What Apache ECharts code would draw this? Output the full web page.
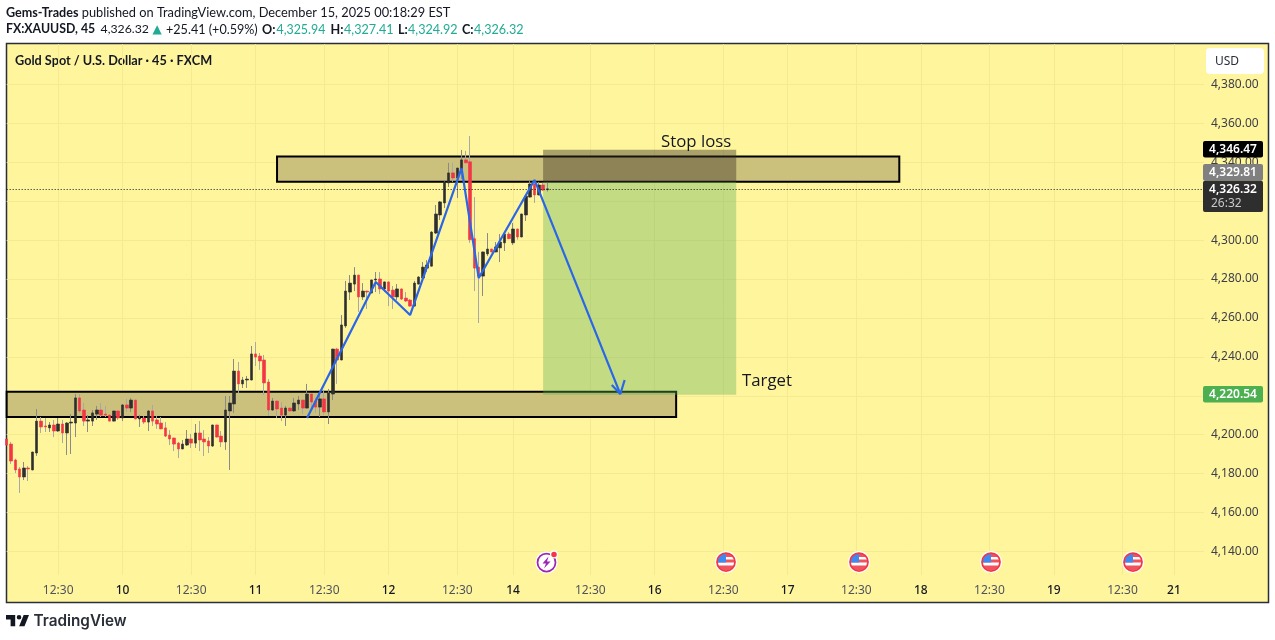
<!DOCTYPE html>
<html>
<head>
<meta charset="utf-8">
<title>XAUUSD 45</title>
<script src="https://cdn.jsdelivr.net/npm/echarts@6/dist/echarts.min.js"></script>
<style>
  html, body { margin: 0; padding: 0; background: #fff; }
  #main-chart { width: 1275px; height: 640px; }
</style>
</head>
<body>
<div id="main-chart"></div>
<script>
// candles, oldest first
var opens = [4197.8,4195.2,4187.0,4182.4,4178.3,4182.9,4181.9,4190.6,4207.0,4204.5,4203.5,4205.0,4201.9,4205.5,4200.9,4206.0,4206.0,4218.9,4212.7,4207.0,4207.0,4210.6,4212.7,4210.6,4210.1,4207.0,4212.2,4208.6,4215.3,4213.7,4217.8,4208.1,4208.6,4206.5,4212.2,4207.6,4206.0,4203.5,4199.8,4198.3,4195.7,4192.7,4194.7,4197.8,4195.7,4200.9,4197.8,4196.8,4194.2,4205.0,4199.3,4196.3,4212.2,4215.8,4232.7,4226.1,4228.1,4228.1,4241.5,4240.4,4238.4,4227.1,4212.7,4217.3,4213.7,4210.1,4213.7,4212.2,4215.8,4217.8,4213.7,4220.9,4217.3,4214.2,4218.4,4211.7,4220.9,4244.0,4238.4,4255.9,4273.3,4277.4,4282.0,4270.8,4273.8,4272.8,4279.5,4280.0,4274.9,4278.5,4274.3,4270.8,4274.9,4270.2,4269.2,4266.1,4277.4,4280.5,4285.6,4286.6,4303.6,4312.9,4319.1,4329.4,4334.5,4331.9,4336.5,4341.2,4340.2,4300.7,4286.1,4281.5,4292.9,4295.4,4293.9,4296.0,4298.6,4303.1,4298.6,4305.7,4301.6,4312.9,4322.1,4328.8,4323.2,4328.3,4325.94];
var closes = [4194.7,4186.5,4181.9,4178.3,4182.9,4182.4,4191.1,4207.0,4204.0,4204.0,4205.0,4201.9,4205.5,4200.9,4206.0,4206.5,4218.9,4212.2,4207.0,4207.6,4211.2,4212.7,4210.1,4210.1,4207.0,4212.2,4208.6,4215.3,4213.7,4217.8,4208.1,4208.6,4206.5,4212.2,4207.0,4205.5,4203.0,4199.3,4197.8,4195.2,4192.7,4195.2,4197.8,4195.7,4200.9,4197.3,4196.3,4194.2,4205.0,4198.8,4196.3,4212.7,4216.3,4232.7,4226.1,4228.1,4228.6,4241.5,4239.9,4237.9,4226.6,4212.7,4217.3,4213.2,4210.1,4213.7,4212.2,4216.3,4217.8,4213.7,4220.9,4216.8,4214.2,4218.4,4211.7,4221.4,4244.0,4238.4,4256.4,4273.8,4277.9,4282.0,4270.8,4273.8,4273.3,4279.5,4280.0,4274.9,4278.5,4273.8,4270.8,4274.9,4269.7,4268.7,4266.1,4277.9,4281.0,4286.1,4287.2,4304.1,4313.4,4319.6,4329.9,4334.5,4331.9,4337.0,4341.2,4339.7,4300.2,4285.6,4281.5,4293.9,4295.4,4293.9,4296.5,4299.0,4303.1,4300.7,4305.7,4301.6,4313.4,4322.6,4328.8,4323.2,4328.3,4325.7,4326.32];
var lows = [4193.0,4185.0,4180.3,4170.1,4176.7,4176.2,4181.7,4189.1,4200.9,4201.4,4201.4,4198.8,4201.4,4195.7,4189.6,4190.1,4198.8,4211.2,4204.5,4201.4,4204.5,4207.6,4209.1,4209.1,4206.8,4206.8,4207.6,4207.0,4211.7,4211.7,4207.9,4204.0,4205.5,4201.9,4204.5,4203.0,4202.8,4198.8,4194.7,4191.6,4188.0,4192.5,4194.2,4193.2,4193.2,4191.6,4189.1,4190.6,4193.7,4198.6,4193.7,4192.2,4181.9,4211.2,4221.4,4224.0,4224.0,4227.9,4235.3,4233.3,4220.4,4209.6,4212.2,4208.6,4207.0,4204.5,4212.0,4211.7,4212.7,4210.6,4213.5,4212.7,4211.2,4209.1,4210.1,4205.5,4217.8,4226.1,4238.2,4254.9,4269.2,4273.8,4263.1,4269.2,4264.6,4272.6,4273.3,4272.3,4273.3,4266.1,4264.6,4269.2,4269.2,4268.2,4265.9,4265.9,4277.2,4280.3,4283.6,4286.4,4303.1,4310.3,4316.5,4327.3,4329.9,4321.6,4331.4,4339.5,4298.6,4273.8,4257.4,4271.3,4291.8,4293.7,4293.7,4288.7,4294.4,4300.5,4297.5,4300.2,4301.4,4309.8,4321.9,4319.1,4323.0,4325.2,4324.92];
var highs = [4199.0,4196.3,4187.7,4183.4,4186.0,4183.9,4191.3,4213.2,4209.1,4208.6,4206.5,4207.6,4208.6,4207.6,4206.5,4210.6,4220.9,4220.9,4216.3,4210.1,4212.7,4214.8,4216.3,4214.8,4210.3,4212.4,4212.4,4215.8,4218.4,4218.9,4218.0,4210.1,4209.6,4212.7,4215.3,4209.6,4209.1,4206.5,4202.4,4198.5,4196.3,4197.3,4202.4,4200.4,4205.5,4207.0,4202.4,4198.8,4205.2,4205.2,4201.9,4219.9,4219.9,4238.9,4237.4,4229.7,4230.2,4245.6,4247.6,4242.0,4241.0,4228.6,4218.9,4217.5,4216.8,4214.8,4213.9,4218.9,4219.9,4218.0,4226.1,4221.1,4218.9,4222.0,4223.0,4223.5,4244.2,4244.6,4261.5,4279.0,4282.0,4286.1,4282.2,4277.9,4274.0,4279.7,4283.6,4283.6,4278.7,4278.7,4276.4,4277.4,4275.1,4273.3,4269.7,4279.0,4281.5,4288.7,4289.7,4304.6,4318.0,4320.1,4330.9,4339.7,4339.7,4337.2,4346.3,4345.8,4353.5,4322.1,4293.9,4294.1,4303.6,4295.6,4299.0,4303.1,4303.3,4304.1,4308.8,4305.9,4313.6,4322.8,4330.9,4330.9,4329.9,4329.4,4329.4];

var slotCount = 280;
var priceTicks = [4140,4160,4180,4200,4220,4240,4260,4280,4300,4320,4340,4360,4380];
var timeTickIdx = [12,27,43,58,74,89,105,118,136,151,167,182,198,213,229,244,260,272];
var timeTickText = ['12:30','10','12:30','11','12:30','12','12:30','14','12:30','16','12:30','17','12:30','18','12:30','19','12:30','21'];

// drawn pattern: bar index, price
var patternIdx = [70,86,94,106,110,123,143];
var patternPrice = [4208.6,4278.5,4261.5,4337.0,4280.5,4330.9,4220.9];
var arrowIdx = [141,143,144];
var arrowPrice = [4225.6,4220.9,4228.1];

// zones: start bar, end bar, low price, high price
var upperZone = [63,208,4330.0,4343.0];
var lowerZone = [0,156,4209.1,4222.1];
var stopBox = [125,170,4329.81,4346.47];
var targetBox = [125,170,4220.54,4329.81];
var lastPrice = 4326.32;

var TXT = '#131722';
var TEAL = '#22ab94';
var FONT = 'Lato, sans-serif';
var AXIS_FONT = 'Noto Sans';

var categories = [];
for (var i = 0; i < slotCount; i++) categories.push(i);

function sparse(idx, vals) {
    var out = new Array(slotCount).fill(null);
    idx.forEach(function (k, n) { out[k] = vals[n]; });
    return out;
}

function areaFrom(box, style) {
    return [{ xAxis: box[0], yAxis: box[3], itemStyle: style }, { xAxis: box[1], yAxis: box[2] }];
}

function isTimeTick(index) {
    return timeTickIdx.indexOf(index) >= 0;
}

function svgUri(body, w, h) {
    var svg = '<svg xmlns="http://www.w3.org/2000/svg" width="' + w + '" height="' + h + '" viewBox="0 0 ' + w + ' ' + h + '">' + body + '</svg>';
    return 'data:image/svg+xml;charset=utf-8,' + encodeURIComponent(svg);
}

function flagImage() {
    return svgUri('<circle cx="22" cy="22" r="22" fill="#fff"/><clipPath id="c"><circle cx="22" cy="22" r="17"/></clipPath>' +
        '<g clip-path="url(#c)"><rect width="44" height="44" fill="#fff"/>' +
        '<rect y="5" width="44" height="7" fill="#f0525f"/><rect y="17" width="44" height="6" fill="#f0525f"/>' +
        '<rect y="29" width="44" height="10" fill="#f0525f"/><rect x="5" y="5" width="17" height="18" fill="#3d8bf0"/></g>' +
        '<circle cx="22" cy="22" r="18" fill="none" stroke="#f23645" stroke-width="3.5"/>', 44, 44);
}

function boltImage() {
    return svgUri('<circle cx="23" cy="25" r="22" fill="#fff"/><circle cx="23" cy="25" r="18" fill="none" stroke="#9c27b0" stroke-width="3.5"/>' +
        '<path d="M27 13 L15 27 H22 L18 37 L31 23 H24 Z" fill="#9c27b0"/>' +
        '<circle cx="38" cy="9" r="8" fill="#fff"/><circle cx="38" cy="9" r="5.5" fill="#f23645"/>', 48, 48);
}

function logoImage() {
    return svgUri('<path d="M14 6H2v6h6v9h6V6Zm12 15h-7l6-15h7l-6 15Zm-7-9a3 3 0 1 0 0-6 3 3 0 0 0 0 6Z" fill="#131722" transform="translate(-2,-6)"/>', 30, 15);
}

function label(x, y, text, font, fill) {
    return { type: 'text', x: x, y: y, style: { text: text, font: font, fill: fill || TXT, verticalAlign: 'middle' } };
}

function tag(y, h, fill, text, sub) {
    var out = [{
        type: 'rect', z: 20, shape: { x: 1203, y: y, width: 60, height: h, r: 2 }, style: { fill: fill }
    }, {
        type: 'text', z: 21, x: 1233, y: y + 8.5,
        style: { text: text, fill: '#fff', font: '600 12px ' + AXIS_FONT, align: 'center', verticalAlign: 'middle' }
    }];
    if (sub) out.push({
        type: 'text', z: 21, x: 1211, y: y + 23,
        style: { text: sub, fill: '#c8c8c8', font: '12px ' + AXIS_FONT, align: 'left', verticalAlign: 'middle' }
    });
    return out;
}

function chromeItems() {
    var reg = '12.8px ' + FONT;
    var bold = '700 12.6px ' + FONT;
    var items = [{
        type: 'rect', z: -10, shape: { x: 6.5, y: 43.5, width: 1262, height: 559 },
        style: { fill: '#fff59d', stroke: '#2a2e39', lineWidth: 1.5 }
    }, {
        type: 'text', x: 6, y: 12.5,
        style: {
            text: '{b|Gems-Trades} published on TradingView.com, December 15, 2025 00:18:29 EST',
            font: reg, fill: TXT, verticalAlign: 'middle',
            rich: { b: { font: bold, fill: TXT } }
        }
    },
    label(6, 29.5, 'FX:XAUUSD, 45', '700 12.3px ' + FONT),
    label(100.5, 29.5, '4,326.32', '12.3px ' + FONT),
    label(152.5, 29.5, '▲', '12px "DejaVu Sans"', TEAL),
    label(166, 29.5, '+25.41 (+0.59%)', '12.6px ' + FONT),
    label(262, 29.5, 'O:', bold), label(276.5, 29.5, '4,325.94', '12.4px ' + FONT, TEAL),
    label(330.5, 29.5, 'H:', bold), label(344, 29.5, '4,327.41', '12.6px ' + FONT, TEAL),
    label(398, 29.5, 'L:', bold), label(408, 29.5, '4,324.92', '12.6px ' + FONT, TEAL),
    label(462, 29.5, 'C:', bold), label(474, 29.5, '4,326.32', '12.6px ' + FONT, TEAL),
    label(15, 60.5, 'Gold Spot / U.S. Dollar · 45 · FXCM', '700 12.7px ' + FONT),
    {
        type: 'text', z: 15, x: 661, y: 142.5,
        style: { text: 'Stop loss', font: '16.8px "Open Sans", sans-serif', fill: TXT, verticalAlign: 'middle' }
    }, {
        type: 'text', z: 15, x: 742, y: 381,
        style: { text: 'Target', font: '16.8px "Open Sans", sans-serif', fill: TXT, verticalAlign: 'middle' }
    }, {
        type: 'rect', z: 20, shape: { x: 1206, y: 48, width: 58, height: 26, r: 4 }, style: { fill: '#fff' }
    }, {
        type: 'text', z: 21, x: 1215, y: 61.5,
        style: { text: 'USD', font: '12px ' + AXIS_FONT, fill: '#2a2e39', verticalAlign: 'middle' }
    }, {
        type: 'image', z: 5, style: { image: logoImage(), x: 6, y: 615, width: 23, height: 11.5 }
    },
    label(33.5, 621.5, 'TradingView', '600 15.3px Inter, sans-serif', '#2a2e39'),
    {
        type: 'image', z: 8, style: { image: boltImage(), x: 535, y: 550, width: 24, height: 24 }
    }];
    [726, 859, 991, 1133].forEach(function (cx) {
        items.push({ type: 'image', z: 8, style: { image: flagImage(), x: cx - 11, y: 551, width: 22, height: 22 } });
    });
    return items
        .concat(tag(141, 16.5, '#000000', '4,346.47'))
        .concat(tag(164, 16.7, '#808080', '4,329.81'))
        .concat(tag(180.7, 31.3, '#2e2e2e', '4,326.32', '26:32'))
        .concat(tag(386, 16.5, '#4caf50', '4,220.54'));
}

var mainChart = echarts.init(document.getElementById('main-chart'), null, { renderer: 'canvas' });

var mainOpt = {
    animation: false,
    graphic: chromeItems(),
    grid: { left: 6.67, right: 71, top: 44, bottom: 65 },
    xAxis: {
        type: 'category',
        data: categories,
        boundaryGap: false,
        axisLine: { show: false },
        axisTick: { show: false },
        splitLine: { show: true, interval: isTimeTick, lineStyle: { color: '#f5ea92', width: 1 } },
        axisLabel: {
            interval: isTimeTick,
            margin: 9.5,
            hideOverlap: false,
            formatter: function (v) {
                var n = timeTickIdx.indexOf(Number(v));
                if (n < 0) return '';
                var t = timeTickText[n];
                return t.length > 2 ? '{t|' + t + '}' : '{d|' + t + '}';
            },
            rich: {
                t: { fontFamily: AXIS_FONT, fontSize: 12, color: '#50535e' },
                d: { fontFamily: AXIS_FONT, fontSize: 12, color: '#131722', fontWeight: 500 }
            }
        }
    },
    yAxis: {
        type: 'value',
        position: 'right',
        min: 4127.93,
        max: 4400.74,
        axisLine: { show: false },
        axisTick: { show: false, customValues: priceTicks },
        splitLine: { show: true, lineStyle: { color: '#f5ea92', width: 1 } },
        axisLabel: {
            customValues: priceTicks,
            margin: 7,
            fontFamily: AXIS_FONT,
            fontSize: 12,
            color: '#3c3f4a',
            formatter: function (v) {
                return Number(v).toLocaleString('en-US', { minimumFractionDigits: 2, maximumFractionDigits: 2 });
            }
        }
    },
    series: [{
        // supply / demand zones
        type: 'line',
        data: [],
        z: 1,
        symbol: 'none',
        markArea: {
            silent: true,
            data: [
                areaFrom(upperZone, { color: '#cbc07c', borderColor: '#000', borderWidth: 2 }),
                areaFrom(lowerZone, { color: '#cbc07c', borderColor: '#000', borderWidth: 2 })
            ]
        }
    }, {
        // wicks
        type: 'candlestick',
        z: 3,
        barWidth: 1,
        itemStyle: { color: '#8a8a8a', color0: '#a8a8a8', borderColor: '#8a8a8a', borderColor0: '#a8a8a8', borderWidth: 1 },
        data: opens.map(function (o, i) { return [o, closes[i], lows[i], highs[i]]; })
    }, {
        // bodies
        type: 'candlestick',
        z: 4,
        barWidth: 3,
        itemStyle: { color: '#2e2e2e', color0: '#f23645', borderColor: '#2e2e2e', borderColor0: '#f23645', borderWidth: 0.6 },
        data: opens.map(function (o, i) {
            return [o, closes[i], Math.min(o, closes[i]), Math.max(o, closes[i])];
        }),
        markLine: {
            silent: true,
            symbol: 'none',
            label: { show: false },
            lineStyle: { color: '#131722', type: [1, 2], width: 1 },
            data: [{ yAxis: lastPrice }]
        }
    }, {
        // position boxes on top of the zones
        type: 'line',
        data: [],
        z: 5,
        symbol: 'none',
        markArea: {
            silent: true,
            data: [
                areaFrom(stopBox, { color: 'rgba(55,48,35,0.42)' }),
                areaFrom(targetBox, { color: 'rgba(90,175,85,0.36)' })
            ]
        }
    }, {
        type: 'line',
        z: 6,
        data: sparse(patternIdx, patternPrice),
        connectNulls: true,
        symbol: 'none',
        lineStyle: { color: '#2a66e8', width: 2.2 }
    }, {
        type: 'line',
        z: 6,
        data: sparse(arrowIdx, arrowPrice),
        connectNulls: true,
        symbol: 'none',
        lineStyle: { color: '#2a66e8', width: 2.2 }
    }]
};

mainChart.setOption(mainOpt);
</script>
</body>
</html>
